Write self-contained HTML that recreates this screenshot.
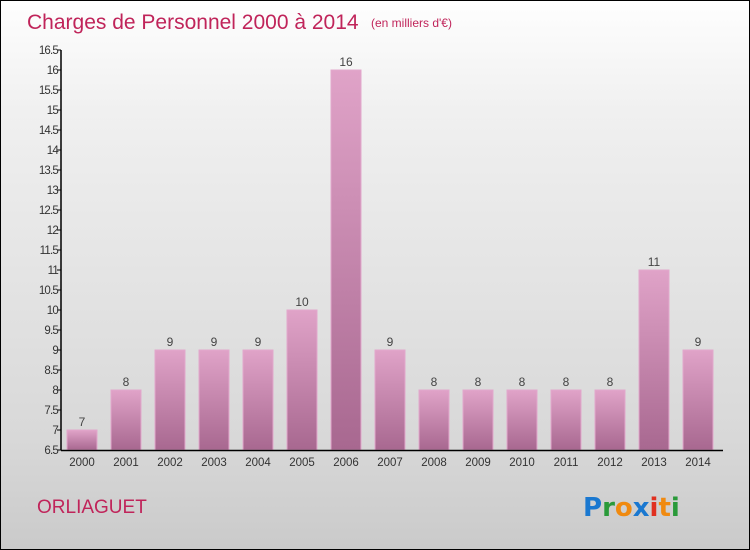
<!DOCTYPE html>
<html><head><meta charset="utf-8"><style>
body{margin:0}
#wrap{position:relative;width:748px;height:548px;border:1px solid #000;background:linear-gradient(#fefefe,#f0f0f0 20%,#d8d8d8 80%,#cacaca);overflow:hidden;font-family:"Liberation Sans",sans-serif}
</style></head><body>
<div id="wrap">
<svg id="chart" width="748" height="548">
<defs><linearGradient id="bg" x1="0" y1="0" x2="0" y2="1"><stop offset="0" stop-color="#e0a3c8"/><stop offset="1" stop-color="#a86890"/></linearGradient></defs>
<text x="26" y="28" font-size="21" fill="#c0245a">Charges de Personnel 2000 à 2014</text>
<text x="370" y="26" font-size="12" fill="#c0245a">(en milliers d'€)</text>
<text x="36" y="512" font-size="19" fill="#c0245a">ORLIAGUET</text>
<g font-size="26" font-weight="bold" font-family="'DejaVu Sans',sans-serif">
<text x="582" y="515"><tspan fill="#1a78d0">P</tspan><tspan fill="#2a9a3a">r</tspan><tspan fill="#f08a10">o</tspan><tspan fill="#1a78d0">x</tspan><tspan fill="#e03020">i</tspan><tspan fill="#f08a10">t</tspan><tspan fill="#2a9a3a">i</tspan></text></g>
</svg></div>
<script>
const years=["2000","2001","2002","2003","2004","2005","2006","2007","2008","2009","2010","2011","2012","2013","2014"];
const values=[7,8,9,9,9,10,16,9,8,8,8,8,8,11,9];
const yTicks=[6.5,7,7.5,8,8.5,9,9.5,10,10.5,11,11.5,12,12.5,13,13.5,14,14.5,15,15.5,16,16.5];
const svg=document.getElementById('chart');const NS='http://www.w3.org/2000/svg';
const yMin=6.5,yMax=16.5,plotTop=49,plotBot=449,plotLeft=60,x0=81,step=44,bw=30;
const yS=v=>plotBot-(v-yMin)/(yMax-yMin)*(plotBot-plotTop);
const xS=i=>x0+i*step;
function mk(t,a){const e=document.createElementNS(NS,t);for(const k in a)e.setAttribute(k,a[k]);svg.appendChild(e);return e;}
values.forEach((v,i)=>{
const r=mk('rect',{x:xS(i)-bw/2,y:yS(v),width:bw,height:plotBot-yS(v),fill:'url(#bg)',stroke:'#e2a8cc','stroke-width':1});


const t=mk('text',{x:xS(i),y:yS(v)-4,'text-anchor':'middle','font-size':12,fill:'#444'});t.textContent=v;


const l=mk('text',{x:xS(i),y:plotBot+16,'text-anchor':'middle','font-size':11.5,fill:'#333'});l.textContent=years[i];


});
yTicks.forEach(v=>{
mk('line',{x1:plotLeft-4,x2:plotLeft,y1:yS(v),y2:yS(v),stroke:'#000'});
const t=mk('text',{x:plotLeft-3,y:yS(v)+4,'text-anchor':'end','font-size':11.5,fill:'#333','letter-spacing':'-0.8'});t.textContent=v;


});
const ya=mk('line',{x1:plotLeft,x2:plotLeft,y1:plotTop,y2:plotBot+0.5,stroke:'#000','stroke-width':1.5});


const xa=mk('line',{x1:plotLeft,x2:722,y1:plotBot+0.5,y2:plotBot+0.5,stroke:'#000','stroke-width':1.5});


</script>
</body></html>
